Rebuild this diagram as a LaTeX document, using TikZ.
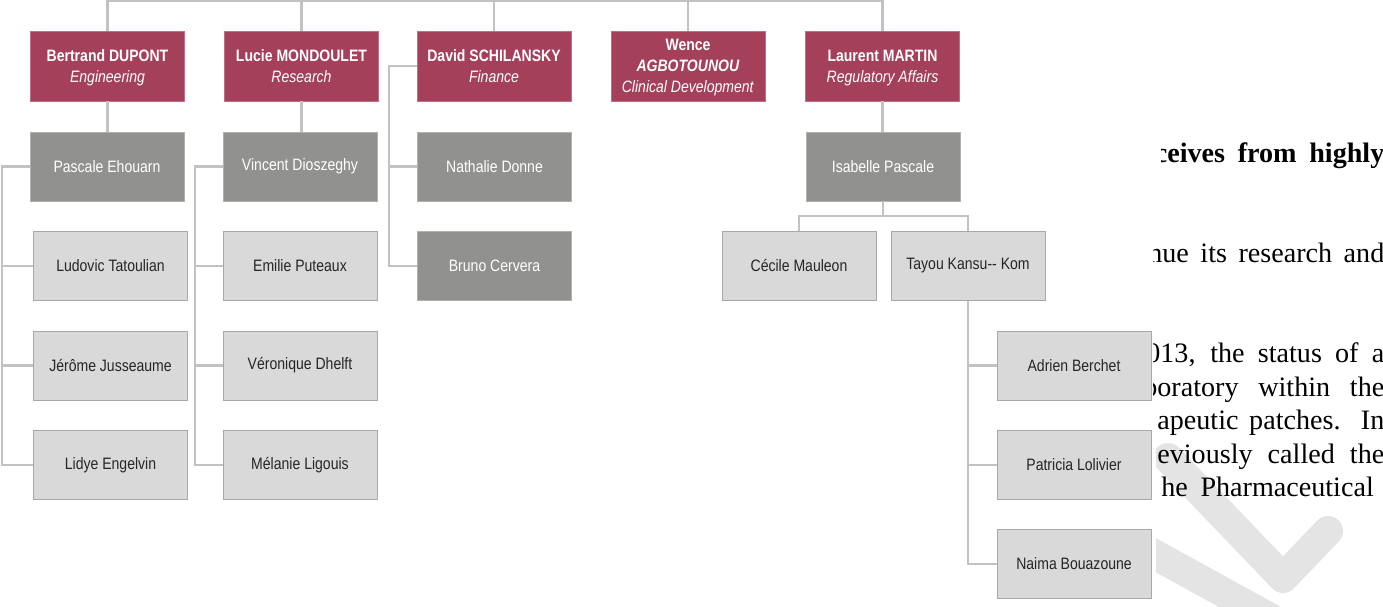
\documentclass[tikz,border=0pt]{standalone}
\usepackage{fontspec}
\setmainfont{Liberation Serif}
\newfontfamily\chartfont{Liberation Sans}[FakeStretch=0.85]
\definecolor{headred}{HTML}{A5405A}
\definecolor{mgrgray}{HTML}{919290}
\definecolor{staffgray}{HTML}{D9D9D9}
\definecolor{staffedge}{HTML}{A8A8A8}
\definecolor{linkgray}{HTML}{C2C2C2}
\definecolor{markgray}{HTML}{E4E4E4}
\tikzset{
  box/.style={minimum width=3.08cm, minimum height=1.38cm, inner sep=0pt, align=center,
    font=\chartfont\fontsize{9.4}{12}\selectfont},
  head/.style={box, minimum height=1.4cm, text depth=-4pt, fill=headred, draw=headred!75!white, text=white},
  mgr/.style={box, fill=mgrgray, draw=mgrgray!70!white, text=white},
  staff/.style={box, fill=staffgray, draw=staffedge, text=black!85},
  link/.style={draw=linkgray, line width=1.3pt},
  markband/.style={draw=markgray, line width=0.6cm, line cap=round, line join=round},
  prose/.style={anchor=base west, inner sep=0pt, font=\fontsize{16}{19}\selectfont}
}
\begin{document}
\begin{tikzpicture}[x=0.02cm, y=-0.02cm]
  \useasboundingbox (0,0) rectangle (1383,607);
  \begin{scope}
    \clip (1161,0) -- (1161,210) -- (1153,210) -- (1153,412) -- (1156,412) -- (1156,607)
      -- (1383,607) -- (1383,0) -- cycle;
    \draw[markband] (1168,458) -- (1283,578) -- (1328,531);
    \draw[markband] (1150,552) -- (1270,618);
    \node[prose] (t1) at (1154.5,163) {\makebox[4.59cm][s]{\textbf{ceives from highly}}};
    \node[prose] (t2) at (1148,263) {\makebox[4.72cm][s]{nue its research and}};
    \node[prose] (t3) at (1146,363) {\makebox[4.76cm][s]{013, the status of a}};
    \node[prose] (t4) at (1143,396.5) {\makebox[4.82cm][s]{boratory within the}};
    \node[prose] (t5) at (1157,430) {\makebox[4.54cm][s]{apeutic patches. In}};
    \node[prose] (t6) at (1157,463.5) {\makebox[4.54cm][s]{eviously called the}};
    \node[prose] (t7) at (1161,497) {he\hspace{0.45em}Pharmaceutical};
  \end{scope}
  \coordinate (top) at (0,1);
  \node[head] (bd) at (107.5,66) {\textbf{Bertrand DUPONT}\\\textit{Engineering}};
  \node[head] (lm) at (301.5,66) {\textbf{Lucie MONDOULET}\\\textit{Research}};
  \node[head] (ds) at (494,66) {\textbf{David SCHILANSKY}\\\textit{Finance}};
  \node[head] (wa) at (688,66) {\textbf{Wence}\\\textbf{\textit{AGBOTOUNOU}}\\\textit{Clinical Development}};
  \node[head] (lma) at (882.5,66) {\textbf{Laurent MARTIN}\\\textit{Regulatory Affairs}};
  \node[mgr] (pe) at (107,166.5) {Pascale Ehouarn};
  \node[mgr] (vd) at (300,166.5) {Vincent Dioszeghy};
  \node[mgr] (nd) at (494.5,166.5) {Nathalie Donne};
  \node[mgr] (bc) at (494.5,266) {Bruno Cervera};
  \node[mgr] (ip) at (883,166.5) {Isabelle Pascale};
  \node[staff] (lt) at (110.5,266) {Ludovic Tatoulian};
  \node[staff] (jj) at (110.5,365.5) {Jérôme Jusseaume};
  \node[staff] (le) at (110.5,465) {Lidye Engelvin};
  \node[staff] (ep) at (300,266) {Emilie Puteaux};
  \node[staff] (vdh) at (300,365.5) {Véronique Dhelft};
  \node[staff] (ml) at (300,465) {Mélanie Ligouis};
  \node[staff] (cm) at (799,266) {Cécile Mauleon};
  \node[staff] (tk) at (968,266) {Tayou Kansu-- Kom};
  \node[staff] (ab) at (1074,365.5) {Adrien Berchet};
  \node[staff] (pl) at (1074,465) {Patricia Lolivier};
  \node[staff] (nb) at (1074,564) {Naima Bouazoune};
  \draw[link] (bd.north) -- (bd.north |- top) -- (lma.north |- top) -- (lma.north);
  \foreach \n in {lm,ds,wa}
    \draw[link] (\n.north) -- (\n.north |- top);
  \draw[link] (bd.south) -- (bd.south |- pe.north);
  \draw[link] (lm.south) -- (lm.south |- vd.north);
  \draw[link] (lma.south) -- (lma.south |- ip.north);
  \coordinate (pespine) at (2,0);
  \draw[link] (pe.west) -- (pe.west -| pespine) -- (le.west -| pespine) -- (le.west);
  \foreach \c in {lt,jj}
    \draw[link] (\c.west) -- (\c.west -| pespine);
  \coordinate (vdspine) at (195,0);
  \draw[link] (vd.west) -- (vd.west -| vdspine) -- (ml.west -| vdspine) -- (ml.west);
  \foreach \c in {ep,vdh}
    \draw[link] (\c.west) -- (\c.west -| vdspine);
  \coordinate (dsspine) at (389,0);
  \draw[link] (ds.west) -- (ds.west -| dsspine) -- (bc.west -| dsspine) -- (bc.west);
  \draw[link] (nd.west) -- (nd.west -| dsspine);
  \coordinate (ipfork) at (0,216);
  \draw[link] (ip.south) -- (ip.south |- ipfork);
  \draw[link] (cm.north) -- (cm.north |- ipfork) -- (tk.north |- ipfork) -- (tk.north);
  \draw[link] (tk.south) -- (tk.south |- nb.west) -- (nb.west);
  \foreach \c in {ab,pl}
    \draw[link] (\c.west) -- (\c.west -| tk.south);
\end{tikzpicture}
\end{document}
